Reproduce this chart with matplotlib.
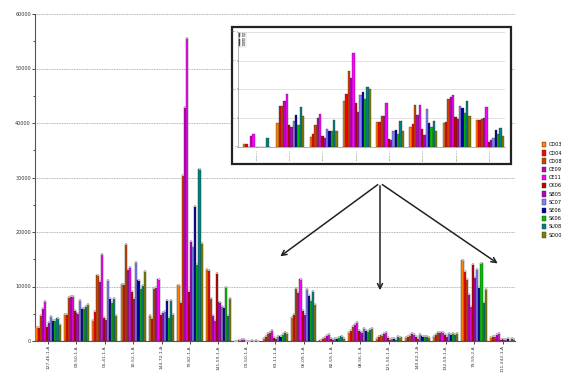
import matplotlib
matplotlib.use("Agg")
import matplotlib.pyplot as plt
import numpy as np
from matplotlib.patches import Rectangle

W, H = 569, 378

categories = ["127-46-1-A", "09-50-1-A", "05-41-1-A", "10-52-1-A", "144-72-1-A",
              "79-82-1-A", "141-59-1-A", "01-50-1-A", "63-11-1-A", "06-09-1-A",
              "82-59-1-A", "08-56-1-A", "121-50-1-A", "140-62-1-A", "132-59-1-A",
              "79-59-2-A", "111-242-1-A"]

series_names = ["CD03", "CD04", "CD08", "CE09", "CE11", "CK06",
                "SB05", "SC07", "SE06", "SK06", "SU08", "SD00"]
series_colors = ["#FF7F00", "#FF0000", "#D04000", "#C000C0", "#FF00FF", "#C00000",
                 "#B000C0", "#8080FF", "#0000A0", "#00C000", "#008080", "#808000"]

CD03 = [2600, 4900, 3900, 10500, 4700, 10200, 13200, 50, 500, 4400, 200, 1700, 600, 700, 900, 14900, 800]
CD04 = [2600, 4900, 5500, 10400, 4300, 7200, 13100, 80, 900, 5000, 500, 2000, 900, 900, 1200, 12900, 900]
CD08 = [4700, 8100, 12200, 17800, 9800, 30400, 7800, 150, 1400, 9800, 800, 2700, 1100, 1100, 1600, 11400, 1000]
CE09 = [6100, 8200, 11000, 13200, 10000, 42900, 4700, 350, 1700, 9000, 1100, 3200, 1400, 1500, 1700, 8700, 1300]
CE11 = [7300, 8200, 15900, 13500, 11400, 55600, 3800, 450, 2000, 11400, 1200, 3400, 1700, 1300, 1700, 6500, 1500]
CK06 = [2700, 5600, 4400, 9100, 5000, 9200, 12400, 60, 800, 5600, 500, 2000, 700, 900, 1200, 14100, 300]
SB05 = [3500, 5200, 4100, 7900, 5300, 18400, 7200, 50, 500, 5000, 300, 1700, 300, 500, 1000, 11700, 300]
SC07 = [4500, 7500, 11200, 14500, 5500, 17500, 6500, 30, 900, 9600, 600, 2300, 500, 1300, 1500, 13200, 400]
SE06 = [3900, 6100, 7900, 11200, 7500, 24700, 6200, 200, 900, 8400, 500, 2000, 600, 900, 1300, 9900, 600]
SK06 = [3900, 6100, 7200, 9800, 4400, 14100, 10000, 30, 1300, 7500, 800, 1900, 400, 900, 1400, 14400, 200]
SU08 = [4300, 6500, 7800, 10200, 7500, 31600, 4800, 250, 1600, 9100, 1000, 2200, 900, 1000, 1200, 7200, 600]
SD00 = [3200, 6800, 4700, 12800, 5000, 17900, 7900, 40, 1400, 6700, 600, 2300, 700, 700, 1400, 9600, 400]
main_series = [CD03, CD04, CD08, CE09, CE11, CK06, SB05, SC07, SE06, SK06, SU08, SD00]

yticks_main = [0, 10000, 20000, 30000, 40000, 50000, 60000]

# inset (zoomed chart image), values in thousands, one row per group
inset_categories = categories[7:15]
inset_g1 = [0.09, 0.11, 0.0, 0.37, 0.46, 0.0, 0.0, 0.0, 0.0, 0.0, 0.32, 0.0]
inset_g2 = [0.84, 1.44, 1.44, 1.60, 1.86, 0.78, 0.69, 0.92, 1.13, 0.78, 1.40, 1.07]
inset_g3 = [0.34, 0.46, 0.75, 1.00, 1.15, 0.38, 0.32, 0.63, 0.57, 0.57, 0.94, 0.57]
inset_g4 = [1.60, 1.86, 2.64, 2.41, 3.28, 1.52, 1.21, 1.82, 1.93, 1.67, 2.09, 2.01]
inset_g5 = [0.86, 0.86, 1.09, 1.09, 1.52, 0.29, 0.25, 0.55, 0.60, 0.46, 0.92, 0.57]
inset_g6 = [0.69, 0.80, 1.47, 1.13, 1.47, 0.63, 0.40, 1.32, 0.83, 0.69, 0.90, 0.57]
inset_g7 = [0.83, 0.86, 1.67, 1.75, 1.82, 1.06, 0.98, 1.44, 1.36, 1.17, 1.60, 1.09]
inset_g8 = [0.95, 0.95, 0.97, 1.00, 1.38, 0.17, 0.23, 0.32, 0.60, 0.46, 0.66, 0.38]
inset_groups = [inset_g1, inset_g2, inset_g3, inset_g4, inset_g5, inset_g6, inset_g7, inset_g8]


def fx(px):
    return px / W


def fy(py):
    return 1 - py / H


fig = plt.figure(figsize=(W / 100, H / 100), dpi=100)
fig.patch.set_facecolor("white")

# ---------------- main axes ----------------
ax = fig.add_axes([fx(35), fy(341), fx(515) - fx(35), fy(14) - fy(341)])
n = len(main_series)
x = np.arange(len(categories))
bw = 0.074
for j, (vals, c, name) in enumerate(zip(main_series, series_colors, series_names)):
    ax.bar(x + (j - (n - 1) / 2) * bw, vals, width=bw, color=c, edgecolor="#333333",
           linewidth=0.3, label=name, zorder=3)
    ax.scatter(x + (j - (n - 1) / 2) * bw, vals, s=1.2, color="#bbbbbb", marker="s",
               zorder=4, linewidths=0)

ax.set_xlim(-0.46, 16.44)
ax.set_ylim(0, 60000)
ax.set_yticks(yticks_main)
ax.set_yticklabels([str(v) for v in yticks_main], fontsize=3.5, color="#333333")
ax.set_yticks(np.arange(5000, 60000, 10000), minor=True)
ax.set_xticks(x)
ax.set_xticklabels(categories, rotation=90, fontsize=3.2, color="#333333")
ax.tick_params(axis="both", which="major", length=2, width=0.5, pad=1)
ax.tick_params(axis="y", which="minor", length=1.5, width=0.5)
ax.grid(axis="y", which="major", linestyle=(0, (1, 1)), color="#999999", linewidth=0.6, zorder=0)
for s in ["top", "right"]:
    ax.spines[s].set_visible(False)
ax.spines["left"].set_color("#555555")
ax.spines["bottom"].set_color("#555555")
ax.spines["left"].set_linewidth(0.8)
ax.spines["bottom"].set_linewidth(0.8)

# legend on the right edge
handles, labels = ax.get_legend_handles_labels()
fig.legend(handles, labels, loc="upper left", bbox_to_anchor=(fx(542), fy(142)),
           frameon=False, fontsize=3.6, handlelength=0.7, handleheight=1.3,
           labelspacing=0.55, handletextpad=0.6, borderaxespad=0, borderpad=0)

# ---------------- inset ----------------
fig.patches.append(Rectangle((fx(232), fy(164)), fx(511) - fx(232), fy(27) - fy(164),
                             transform=fig.transFigure, facecolor="white",
                             edgecolor="#222222", linewidth=1.6, zorder=5))
iax = fig.add_axes([fx(238), fy(147), fx(505) - fx(238), fy(32) - fy(147)], zorder=6)
ix = np.arange(len(inset_categories))
ibw = 0.07
for j, (c, name) in enumerate(zip(series_colors, series_names)):
    vals = [g[j] for g in inset_groups]
    iax.bar(ix + (j - (n - 1) / 2) * ibw, vals, width=ibw, color=c, edgecolor="#333333",
            linewidth=0.25, zorder=3, label=name)
iax.set_xlim(-0.57, 7.45)
iax.set_ylim(0, 4)
iax.set_yticks([0, 1, 2, 3, 4])
iax.set_yticklabels(["0", "1000", "2000", "3000", "4000"], fontsize=1.6, color="#555555")
iax.set_xticks(ix)
iax.set_xticklabels(inset_categories, rotation=90, fontsize=1.6, color="#555555")
iax.tick_params(length=1, width=0.3, pad=0.5)
iax.grid(axis="y", color="#dddddd", linewidth=0.6, zorder=0)
for s in ["top", "right"]:
    iax.spines[s].set_visible(False)
iax.spines["left"].set_linewidth(0.4)
iax.spines["bottom"].set_linewidth(0.4)
iax.spines["left"].set_color("#777777")
iax.spines["bottom"].set_color("#777777")
iax.legend(loc="upper left", fontsize=1.2, ncol=1, handlelength=0.6, handleheight=0.4,
           labelspacing=0.05, borderpad=0.2, framealpha=1, edgecolor="#bbbbbb",
           fancybox=False).get_frame().set_linewidth(0.3)

# ---------------- arrows ----------------
start = (fx(380), fy(183))
for end in [(278, 258), (380, 293), (500, 265)]:
    fig.add_artist(matplotlib.patches.FancyArrowPatch(
        start, (fx(end[0]), fy(end[1])), transform=fig.transFigure,
        arrowstyle="->", mutation_scale=9, color="#222222", linewidth=1.1, zorder=7))

fig.savefig("out.png", dpi=100)
